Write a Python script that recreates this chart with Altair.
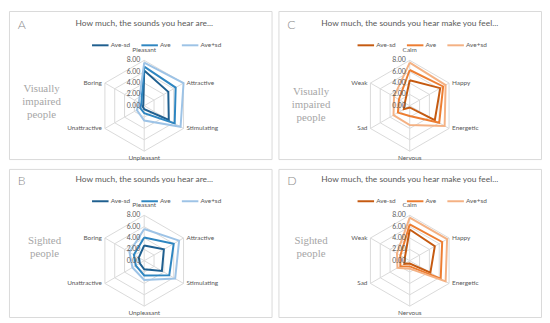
import math
import altair as alt
import pandas as pd

# ---------------- data ----------------
SERIES = ["Ave-sd", "Ave", "Ave+sd"]
TICKS = [0, 2, 4, 6, 8]
AXES_ARE = ["Pleasant", "Attractive", "Stimulating", "Unpleasant", "Unattractive", "Boring"]
AXES_FEEL = ["Calm", "Happy", "Energetic", "Nervous", "Sad", "Weak"]

# A: visually impaired, "are..."
A_LO = [6.2, 4.9, 5.0, 0.6, 0.3, 0.2]
A_AVE = [6.9, 6.4, 6.2, 1.3, 0.8, 0.6]
A_HI = [7.6, 8.0, 7.4, 2.6, 1.5, 1.1]
# B: sighted, "are..."
B_LO = [2.7, 4.0, 3.6, 1.5, 0.9, 1.1]
B_AVE = [4.1, 6.0, 5.1, 2.6, 1.7, 2.1]
B_HI = [5.6, 7.1, 6.3, 3.4, 2.4, 3.0]
# C: visually impaired, "feel..."
C_LO = [4.5, 6.2, 5.1, 0.3, 1.2, 1.0]
C_AVE = [6.3, 6.8, 6.0, 1.8, 2.4, 2.2]
C_HI = [7.6, 7.3, 7.1, 3.4, 3.3, 3.2]
# D: sighted, "feel..."
D_LO = [5.5, 5.1, 4.2, 0.5, 1.1, 1.0]
D_AVE = [6.4, 6.6, 6.3, 1.0, 1.9, 1.9]
D_HI = [7.6, 7.6, 7.3, 1.4, 2.5, 2.6]

TITLE_ARE = "How much, the sounds you hear are..."
TITLE_FEEL = "How much, the sounds you hear make you feel..."
SIDE_VI = ["Visually", "impaired", "people"]
SIDE_SI = ["Sighted", "people"]

BLUES = ["#1f5f8f", "#2e86c1", "#9dc3e6"]
ORANGES = ["#c55a11", "#ed7d31", "#f4b183"]

# ---------------- layout ----------------
S = 5.75        # pixels per unit of the radial axis
W = 266
H = 150
GRID = "#d9d9d9"
TXT = "#595959"
FONT = "Lato"
SERIF = "'Liberation Serif', 'DejaVu Serif', serif"
N = 6


def panel(axes, lo, ave, hi, colors, letter, title, side, cx, cy, top, side_x, side_y):
    xs = alt.Scale(domain=[-cx / S, (W - cx) / S], nice=False, zero=False)
    ys = alt.Scale(domain=[-(H - cy) / S, cy / S], nice=False, zero=False)

    def X(f):
        return alt.X(f, type="quantitative", scale=xs, axis=None)

    def Y(f):
        return alt.Y(f, type="quantitative", scale=ys, axis=None)

    calc = dict(
        x="datum.value * sin(datum.k * PI / 3)",
        y="datum.value * cos(datum.k * PI / 3)",
    )

    rows = []
    for s, vals in zip(SERIES, [lo, ave, hi]):
        for i in range(N + 1):
            rows.append({"series": s, "order": i, "k": i % N, "value": vals[i % N]})
    sdf = pd.DataFrame(rows)

    grows = []
    for r in TICKS[1:]:
        for i in range(N + 1):
            grows.append({"ring": r, "order": i, "k": i % N, "value": r})
    gdf = pd.DataFrame(grows)

    spokes = pd.DataFrame({"k": list(range(N)), "value": [TICKS[-1]] * N, "zero": [0] * N})
    labels = pd.DataFrame({"k": list(range(N)), "value": [TICKS[-1]] * N, "name": axes})
    ticks = pd.DataFrame({"value": TICKS, "zero": [0] * len(TICKS)})
    one = pd.DataFrame({"a": [0]})

    rings = alt.Chart(gdf).mark_line(color=GRID, strokeWidth=1).transform_calculate(**calc).encode(
        x=X("x"), y=Y("y"), detail="ring:N", order="order:Q")
    rules = alt.Chart(spokes).mark_rule(color=GRID, strokeWidth=1).transform_calculate(**calc).encode(
        x=X("zero"), y=Y("zero"), x2="x:Q", y2="y:Q")

    lines = alt.Chart(sdf).mark_line(strokeWidth=2).transform_calculate(**calc).encode(
        x=X("x"), y=Y("y"), order="order:Q",
        color=alt.Color("series:N", scale=alt.Scale(domain=SERIES, range=colors),
                        sort=SERIES,
                        legend=alt.Legend(title=None, orient="none", direction="horizontal",
                                          legendX=cx - 54, legendY=top + 13,
                                          symbolType="stroke", symbolStrokeWidth=2,
                                          symbolSize=280, labelFontSize=6.5, labelFont=FONT,
                                          labelColor=TXT, columnPadding=7, labelOffset=1,
                                          padding=0, symbolOffset=0)))

    tick_text = alt.Chart(ticks).mark_text(align="right", baseline="middle", dx=-4,
                                           fontSize=7, font=FONT, color=TXT).encode(
        x=X("zero"), y=Y("value"), text=alt.Text("value:Q", format=".2f"))

    def lab(filt, **kw):
        return alt.Chart(labels).mark_text(fontSize=6.5, font=FONT, color=TXT, **kw).transform_filter(
            filt).transform_calculate(**calc).encode(x=X("x"), y=Y("y"), text="name:N")

    lab_top = lab("datum.k == 0", align="center", baseline="middle", dy=-10)
    lab_right = lab("datum.k == 1 || datum.k == 2", align="left", baseline="middle", dx=3)
    lab_bot = lab("datum.k == 3", align="center", baseline="middle", dy=7)
    lab_left = lab("datum.k == 4 || datum.k == 5", align="right", baseline="middle", dx=-3)

    t = alt.Chart(one).mark_text(text=title, fontSize=8.5, font=FONT, color=TXT,
                                 align="center", baseline="middle").encode(
        x=alt.value(cx), y=alt.value(top))
    let = alt.Chart(one).mark_text(text=letter, fontSize=12.5, font=FONT, fontWeight=300,
                                   color="#8c8c8c", align="left", baseline="middle").encode(
        x=alt.value(9), y=alt.value(top + 2))
    sd = alt.Chart(one).mark_text(text=side, fontSize=11, font=SERIF,
                                  color="#a6a6a6", align="center", baseline="middle",
                                  lineHeight=13).encode(
        x=alt.value(side_x), y=alt.value(side_y))

    return alt.layer(rings, rules, lines, tick_text, lab_top, lab_right, lab_bot, lab_left,
                     t, let, sd).properties(width=W, height=H)


pa = panel(AXES_ARE, A_LO, A_AVE, A_HI, BLUES, "A", TITLE_ARE, SIDE_VI, 137, 96, 12, 33, 79)
pc = panel(AXES_FEEL, C_LO, C_AVE, C_HI, ORANGES, "C", TITLE_FEEL, SIDE_VI, 133, 96, 12, 33, 82)
pb = panel(AXES_ARE, B_LO, B_AVE, B_HI, BLUES, "B", TITLE_ARE, SIDE_SI, 137, 93, 10, 36, 73)
pd_ = panel(AXES_FEEL, D_LO, D_AVE, D_HI, ORANGES, "D", TITLE_FEEL, SIDE_SI, 133, 93, 10, 33, 73)

top_row = alt.hconcat(pa, pc, spacing=5).resolve_scale(color="independent", x="independent",
                                                       y="independent")
bot_row = alt.hconcat(pb, pd_, spacing=5).resolve_scale(color="independent", x="independent",
                                                        y="independent")
chart = alt.vconcat(top_row, bot_row, spacing=6).resolve_scale(
    color="independent", x="independent", y="independent"
).properties(padding=0, background="white").configure_view(stroke=GRID, strokeWidth=1)

chart.save("out.html", embed_options={"renderer": "svg", "actions": False})
